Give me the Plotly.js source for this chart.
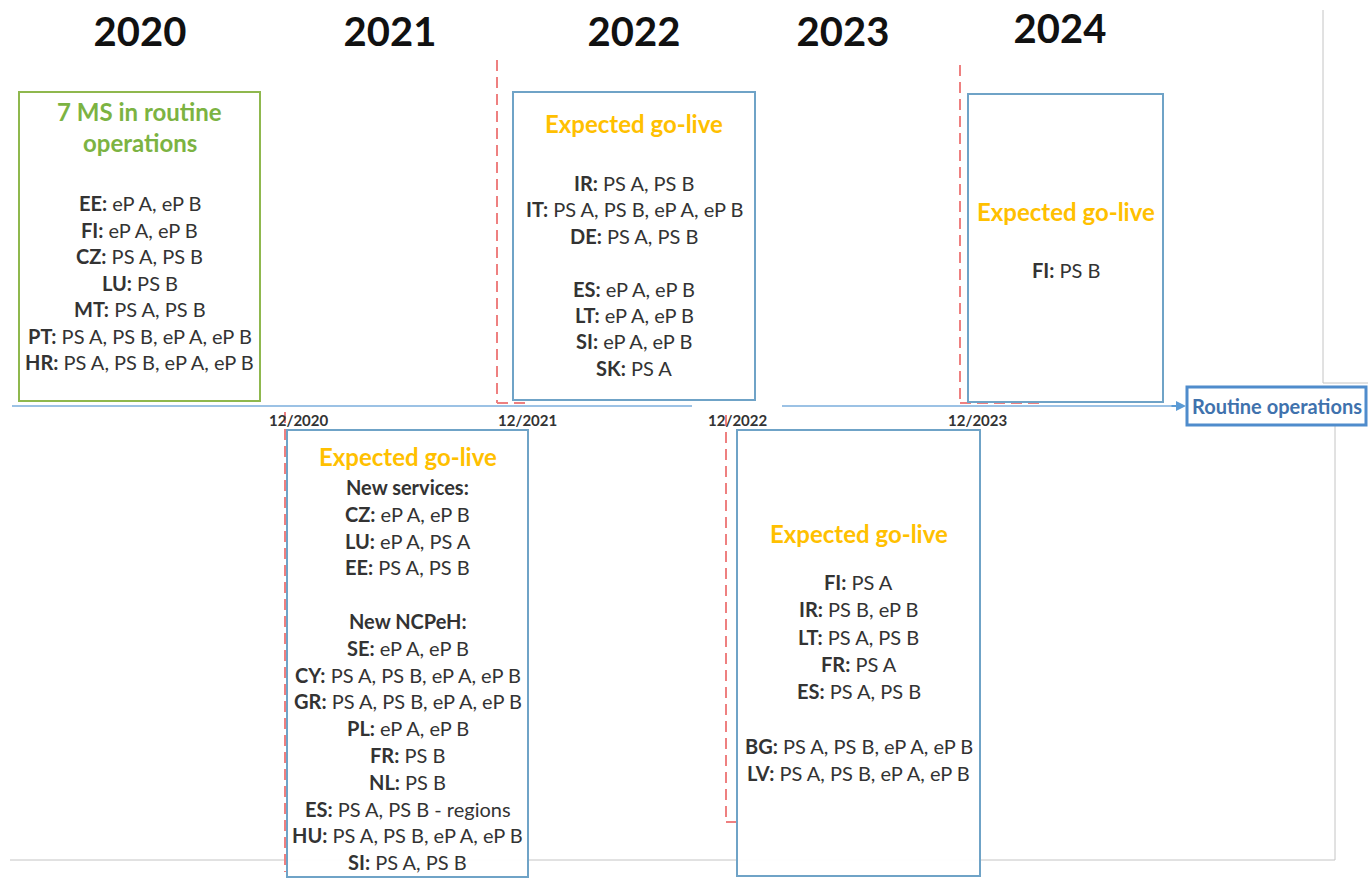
<!DOCTYPE html>
<html>
<head>
<meta charset="utf-8">
<script src="https://cdn.plot.ly/plotly-3.0.1.min.js"></script>
<style>html,body{margin:0;padding:0;background:#fff;}#chart{width:1368px;height:878px;}</style>
</head>
<body>
<div id="chart"></div>
<script>
// ---------- content (data) ----------
const yearLabels = ['2020', '2021', '2022', '2023', '2024'];
const milestoneLabels = ['12/2020', '12/2021', '12/2022', '12/2023'];
const routineTitle = ['7 MS in routine', 'operations'];
const goLiveTitle = 'Expected go-live';
const endLabel = 'Routine operations';
const routine2020Entries = [
  'EE: eP A, eP B', 'FI: eP A, eP B', 'CZ: PS A, PS B', 'LU: PS B',
  'MT: PS A, PS B', 'PT: PS A, PS B, eP A, eP B', 'HR: PS A, PS B, eP A, eP B'
];
const goLive2021Entries = [
  'New services:', 'CZ: eP A, eP B', 'LU: eP A, PS A', 'EE: PS A, PS B', '',
  'New NCPeH:', 'SE: eP A, eP B', 'CY: PS A, PS B, eP A, eP B', 'GR: PS A, PS B, eP A, eP B',
  'PL: eP A, eP B', 'FR: PS B', 'NL: PS B', 'ES: PS A, PS B - regions',
  'HU: PS A, PS B, eP A, eP B', 'SI: PS A, PS B'
];
const goLive2022Entries = [
  'IR: PS A, PS B', 'IT: PS A, PS B, eP A, eP B', 'DE: PS A, PS B', '',
  'ES: eP A, eP B', 'LT: eP A, eP B', 'SI: eP A, eP B', 'SK: PS A'
];
const goLive2023Entries = [
  'FI: PS A', 'IR: PS B, eP B', 'LT: PS A, PS B', 'FR: PS A', 'ES: PS A, PS B', '',
  'BG: PS A, PS B, eP A, eP B', 'LV: PS A, PS B, eP A, eP B'
];
const goLive2024Entries = ['FI: PS B'];

// ---------- layout geometry (pixel space of the canvas) ----------
const FONT = 'Lato, "Open Sans", sans-serif';
const GREEN = '#8fb84e', GREEN_TXT = '#7cb342', BLUE = '#6fa3c7', ORANGE = '#ffc000';
const TXT = '#333333', RED = '#ee8080', GRAY = '#c4c4c4', TL = '#9cc2e5';
const ENTRY_SIZE = 20, TITLE_SIZE = 24;
const yearX = [140, 390, 634, 843, 1060];
const yearY = [36, 36, 36, 36, 33];
const milestoneX = [298, 527, 737, 977];
const lineY = 406;

const boxes = [
  {x0: 19, x1: 260, y0: 92, y1: 401, stroke: GREEN, title: routineTitle, titleColor: GREEN_TXT, titleY: [111, 142], firstY: 203, step: 26.5, entries: routine2020Entries},
  {x0: 287, x1: 528, y0: 430, y1: 877, stroke: BLUE, title: [goLiveTitle], titleColor: ORANGE, titleY: [456], firstY: 487, step: 26.8, entries: goLive2021Entries},
  {x0: 513, x1: 755, y0: 92, y1: 400, stroke: BLUE, title: [goLiveTitle], titleColor: ORANGE, titleY: [123], firstY: 183, step: 26.4, entries: goLive2022Entries},
  {x0: 737, x1: 980, y0: 430, y1: 876, stroke: BLUE, title: [goLiveTitle], titleColor: ORANGE, titleY: [533], firstY: 582, step: 27.3, entries: goLive2023Entries},
  {x0: 968, x1: 1163, y0: 94, y1: 402, stroke: BLUE, title: [goLiveTitle], titleColor: ORANGE, titleY: [211], firstY: 270, step: 26.5, entries: goLive2024Entries}
];

function fmt(line) {
  if (line.endsWith(':')) return '<b>' + line + '</b>';
  const i = line.indexOf(':');
  if (i < 0) return line;
  return '<b>' + line.slice(0, i + 1) + '</b>' + line.slice(i + 1);
}

const shapes = [];
const annotations = [];

// background frame lines (gray)
shapes.push({type: 'line', x0: 1323, x1: 1323, y0: 10, y1: 383, line: {color: GRAY, width: 1}});
shapes.push({type: 'line', x0: 1323, x1: 1368, y0: 383, y1: 383, line: {color: GRAY, width: 1}});
shapes.push({type: 'line', x0: 1335, x1: 1335, y0: 425, y1: 860, line: {color: GRAY, width: 1}});
shapes.push({type: 'line', x0: 10, x1: 1335, y0: 860, y1: 860, line: {color: GRAY, width: 1}});

// timeline
shapes.push({type: 'line', x0: 12, x1: 692, y0: lineY, y1: lineY, line: {color: TL, width: 2}});
shapes.push({type: 'line', x0: 782, x1: 1178, y0: lineY, y1: lineY, line: {color: TL, width: 2}});
annotations.push({x: 1186, y: lineY, ax: 1170, ay: lineY, axref: 'x', ayref: 'y', xref: 'x', yref: 'y',
  text: '', showarrow: true, arrowhead: 2, arrowsize: 1, arrowwidth: 2, arrowcolor: '#5b9bd5'});

// red dashed milestone markers
const dash = {color: RED, width: 2, dash: '11px,6px'};
shapes.push({type: 'line', x0: 497, x1: 497, y0: 60, y1: 403, line: dash});
shapes.push({type: 'line', x0: 497, x1: 530, y0: 403, y1: 403, line: dash});
shapes.push({type: 'line', x0: 960, x1: 960, y0: 65, y1: 403, line: dash});
shapes.push({type: 'line', x0: 960, x1: 1040, y0: 403, y1: 403, line: dash});
shapes.push({type: 'line', x0: 726, x1: 726, y0: 415, y1: 822, line: dash});
shapes.push({type: 'line', x0: 726, x1: 737, y0: 822, y1: 822, line: dash});
shapes.push({type: 'line', x0: 285, x1: 285, y0: 412, y1: 872, line: dash});

// boxes with text
boxes.forEach(b => {
  shapes.push({type: 'rect', x0: b.x0, x1: b.x1, y0: b.y0, y1: b.y1, fillcolor: 'rgba(255,255,255,0.96)', line: {color: b.stroke, width: 2}});
  const cx = (b.x0 + b.x1) / 2;
  b.title.forEach((t, i) => annotations.push({x: cx, y: b.titleY[i], xref: 'x', yref: 'y', showarrow: false,
    xanchor: 'center', yanchor: 'middle', text: '<b>' + t + '</b>', font: {family: FONT, size: TITLE_SIZE, color: b.titleColor}}));
  b.entries.forEach((e, i) => {
    if (!e) return;
    annotations.push({x: cx, y: b.firstY + i * b.step, xref: 'x', yref: 'y', showarrow: false,
      xanchor: 'center', yanchor: 'middle', text: fmt(e), font: {family: FONT, size: ENTRY_SIZE, color: TXT}});
  });
});

// routine operations end box
shapes.push({type: 'rect', x0: 1187, x1: 1366, y0: 387, y1: 425, fillcolor: '#fff', line: {color: '#4f8ccc', width: 3}});
annotations.push({x: 1277, y: 406, xref: 'x', yref: 'y', showarrow: false, xanchor: 'center', yanchor: 'middle',
  text: '<b>' + endLabel + '</b>', font: {family: FONT, size: 20, color: '#3f72ad'}});

// milestone labels
milestoneLabels.forEach((m, i) => annotations.push({x: milestoneX[i], y: 420, xref: 'x', yref: 'y', showarrow: false,
  xanchor: 'center', yanchor: 'middle', text: '<b>' + m + '</b>', font: {family: FONT, size: 15, color: '#333'}}));

const traces = [{
  type: 'scatter', mode: 'text', x: yearX, y: yearY, text: yearLabels,
  textfont: {family: FONT, size: 40, color: '#111'}, textposition: 'middle center', hoverinfo: 'skip', showlegend: false,
  texttemplate: '<b>%{text}</b>'
}];

const layout = {
  width: 1368, height: 878,
  margin: {l: 0, r: 0, t: 0, b: 0},
  paper_bgcolor: '#fff', plot_bgcolor: '#fff',
  xaxis: {range: [0, 1368], visible: false, fixedrange: true},
  yaxis: {range: [878, 0], visible: false, fixedrange: true},
  shapes: shapes,
  annotations: annotations,
  showlegend: false
};

Plotly.newPlot('chart', traces, layout, {staticPlot: true, displayModeBar: false});
</script>
</body>
</html>
